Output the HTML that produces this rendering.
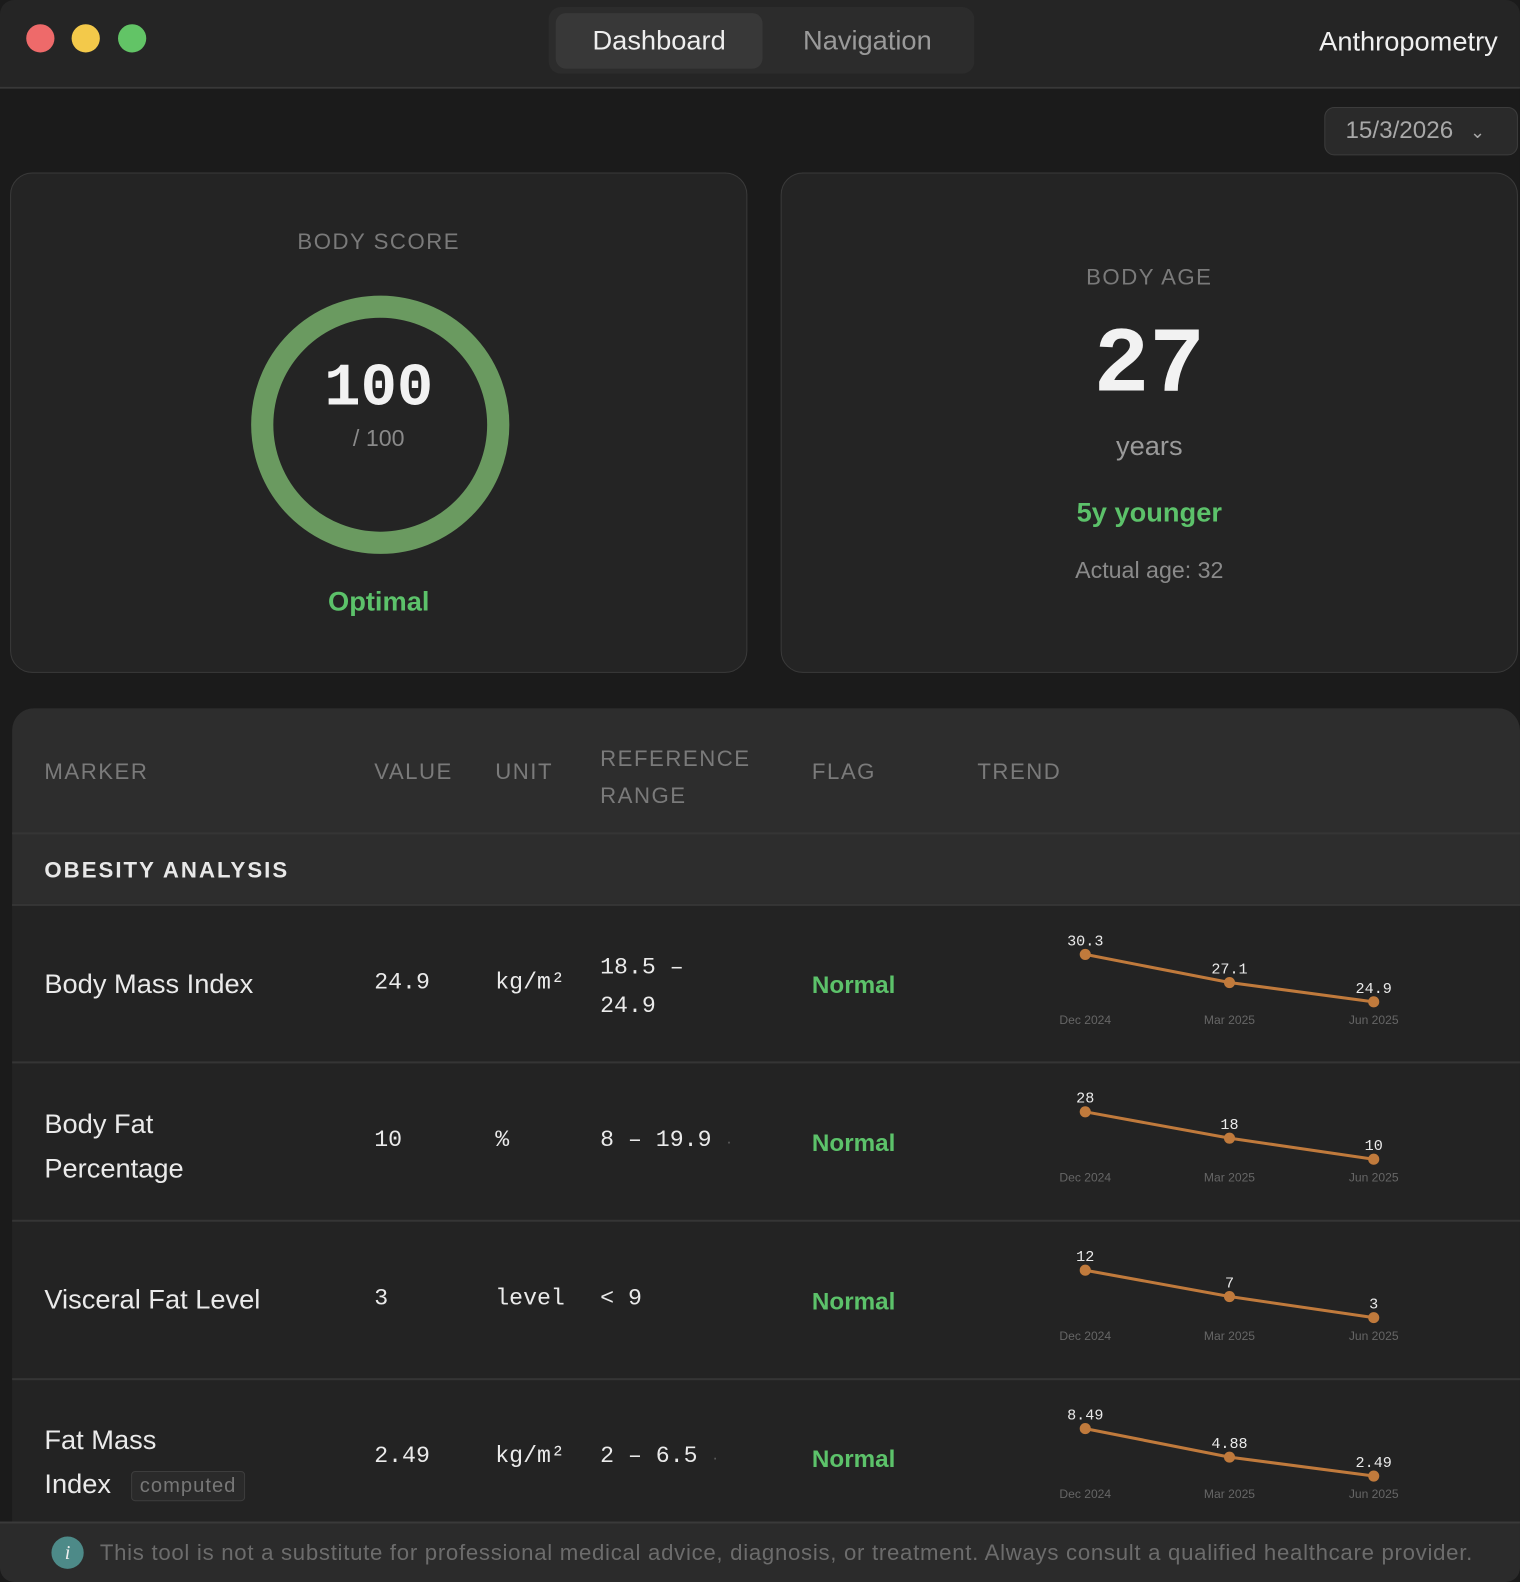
<!DOCTYPE html>
<html><head><meta charset="utf-8"><style>
*{box-sizing:border-box;margin:0;padding:0}
html,body{width:1520px;height:1582px;overflow:hidden;background:#1b1b1b}
body{font-family:"Liberation Sans",sans-serif}
#wrap{position:absolute;left:0;top:0;width:1507px;height:1568px;transform:scale(1.0086,1.0089);transform-origin:0 0;background:#1b1b1b}
.a{position:absolute}
.mono{font-family:"Liberation Mono",monospace}
.card{position:absolute;background:#242424;border:1px solid #3a3a3a;border-radius:22px}
.hd{color:#7a7a7a;font-size:22px;letter-spacing:1.5px}
.cell{position:absolute;color:#eaeaea}
.flag{color:#5cc26a;font-weight:bold;font-size:24px}
.sep{position:absolute;left:12px;width:1495px;height:2px;background:#353535}
</style></head><body>
<div id="wrap">
<div class="a" style="left:0;top:0;width:1507px;height:88px;background:#252525;border-bottom:2px solid #383838;border-radius:14px 14px 0 0"></div>
<div class="a" style="left:26px;top:24px;width:28px;height:28px;border-radius:50%;background:#ee6a6a"></div>
<div class="a" style="left:71px;top:24px;width:28px;height:28px;border-radius:50%;background:#f3c94a"></div>
<div class="a" style="left:117px;top:24px;width:28px;height:28px;border-radius:50%;background:#62c466"></div>
<div class="a" style="left:544px;top:7px;width:422px;height:66px;background:#2c2c2c;border-radius:12px"></div>
<div class="a" style="left:551px;top:13px;width:205px;height:55px;background:#383838;border-radius:10px;color:#eee;font-size:27px;text-align:center;line-height:55px">Dashboard</div>
<div class="a" style="left:760px;top:13px;width:200px;height:55px;color:#9a9a9a;font-size:27px;text-align:center;line-height:55px">Navigation</div>
<div class="a" style="right:22px;top:26px;color:#f0f0f0;font-size:27px">Anthropometry</div>
<div class="a" style="left:1313px;top:106px;width:192px;height:48px;background:#2a2a2a;border:1px solid #3c3c3c;border-radius:10px;color:#a8a8a8;font-size:24px;line-height:46px;padding-left:20px">15/3/2026 <span style="font-size:18px;margin-left:10px">&#8964;</span></div>

<div class="card" style="left:10px;top:171px;width:731px;height:496px"></div>
<div class="a hd" style="left:10px;width:731px;top:227px;text-align:center">BODY SCORE</div>
<svg class="a" style="left:248px;top:292px" width="258" height="258"><circle cx="129" cy="129" r="117" fill="none" stroke="#6a9a60" stroke-width="22"/></svg>
<div class="a mono" style="left:10px;width:731px;top:352px;text-align:center;color:#f2f2f2;font-size:60px;font-weight:bold">100</div>
<div class="a" style="left:10px;width:731px;top:421px;text-align:center;color:#8a8a8a;font-size:23px">/ 100</div>
<div class="a" style="left:10px;width:731px;top:581px;text-align:center;color:#5cc26a;font-size:27px;font-weight:bold">Optimal</div>

<div class="card" style="left:774px;top:171px;width:731px;height:496px"></div>
<div class="a hd" style="left:774px;width:731px;top:262px;text-align:center">BODY AGE</div>
<div class="a mono" style="left:774px;width:731px;top:310px;text-align:center;color:#f2f2f2;font-size:92px;font-weight:bold">27</div>
<div class="a" style="left:774px;width:731px;top:427px;text-align:center;color:#9a9a9a;font-size:27px">years</div>
<div class="a" style="left:774px;width:731px;top:493px;text-align:center;color:#5cc26a;font-size:27px;font-weight:bold">5y younger</div>
<div class="a" style="left:774px;width:731px;top:552px;text-align:center;color:#8a8a8a;font-size:23px">Actual age: 32</div>

<div class="a" style="left:12px;top:702px;width:1495px;height:820px;background:#232323;border-radius:22px 22px 0 0;overflow:hidden">
 <div style="position:absolute;left:0;top:0;width:100%;height:196px;background:#2d2d2d"></div>
</div>
<div class="sep" style="top:825px"></div>
<div class="sep" style="top:896px"></div>
<div class="sep" style="top:1052px"></div>
<div class="sep" style="top:1209px"></div>
<div class="sep" style="top:1366px"></div>
<div class="a hd" style="left:44px;top:752px">MARKER</div>
<div class="a hd" style="left:371px;top:752px">VALUE</div>
<div class="a hd" style="left:491px;top:752px">UNIT</div>
<div class="a hd" style="left:595px;top:733px;line-height:37px">REFERENCE<br>RANGE</div>
<div class="a hd" style="left:805px;top:752px">FLAG</div>
<div class="a hd" style="left:969px;top:752px">TREND</div>
<div class="a" style="left:44px;top:850px;color:#e8e8e8;font-size:22px;font-weight:bold;letter-spacing:2px">OBESITY ANALYSIS</div>

<div class="cell" style="left:44px;top:960px;font-size:27px">Body Mass Index</div>
<div class="cell mono" style="left:371px;top:961px;font-size:23px">24.9</div>
<div class="cell mono" style="left:491px;top:961px;font-size:23px">kg/m²</div>
<div class="cell mono" style="left:595px;top:940px;font-size:23px;line-height:38px">18.5 –<br>24.9</div>
<div class="a flag" style="left:805px;top:963px">Normal</div>

<div class="cell" style="left:44px;top:1092px;font-size:27px;line-height:44px">Body Fat<br>Percentage</div>
<div class="cell mono" style="left:371px;top:1117px;font-size:23px">10</div>
<div class="cell mono" style="left:491px;top:1117px;font-size:23px">%</div>
<div class="cell mono" style="left:595px;top:1117px;font-size:23px">8 – 19.9 <span style="color:#666;font-size:12px">·</span></div>
<div class="a flag" style="left:805px;top:1120px">Normal</div>

<div class="cell" style="left:44px;top:1273px;font-size:27px">Visceral Fat Level</div>
<div class="cell mono" style="left:371px;top:1274px;font-size:23px">3</div>
<div class="cell mono" style="left:491px;top:1274px;font-size:23px">level</div>
<div class="cell mono" style="left:595px;top:1274px;font-size:23px">&lt; 9</div>
<div class="a flag" style="left:805px;top:1277px">Normal</div>

<div class="cell" style="left:44px;top:1405px;font-size:27px;line-height:44px">Fat Mass<br>Index <span style="display:inline-block;margin-left:12px;font-size:20px;color:#777;border:1px solid #3d3d3d;background:#2a2a2a;border-radius:4px;padding:0 8px;line-height:28px;vertical-align:middle;letter-spacing:1px">computed</span></div>
<div class="cell mono" style="left:371px;top:1430px;font-size:23px">2.49</div>
<div class="cell mono" style="left:491px;top:1430px;font-size:23px">kg/m²</div>
<div class="cell mono" style="left:595px;top:1430px;font-size:23px">2 – 6.5 <span style="color:#666;font-size:12px">·</span></div>
<div class="a flag" style="left:805px;top:1433px">Normal</div>

<svg id="trends" class="a" style="left:0;top:0" width="1507" height="1568"></svg>

<div class="a" style="left:0;top:1508px;width:1507px;height:60px;background:#2b2b2b;border-top:2px solid #3a3a3a;border-radius:0 0 14px 14px"></div>
<div class="a" style="left:51px;top:1523px;width:32px;height:32px;border-radius:50%;background:#4d8a88;color:#eee;font-style:italic;font-size:20px;text-align:center;line-height:32px;font-family:'Liberation Serif',serif">i</div>
<div class="a" style="left:99px;top:1526px;color:#6c6c6c;font-size:22px;white-space:nowrap;letter-spacing:0.7px">This tool is not a substitute for professional medical advice, diagnosis, or treatment. Always consult a qualified healthcare provider.</div>
</div>
<script>
const trendDates = ["Dec 2024","Mar 2025","Jun 2025"];
const bmiTrend = [30.3, 27.1, 24.9];
const bodyFatTrend = [28, 18, 10];
const visceralTrend = [12, 7, 3];
const fatMassTrend = [8.49, 4.88, 2.49];
const trendLabels = [["30.3","27.1","24.9"],["28","18","10"],["12","7","3"],["8.49","4.88","2.49"]];
const series = [bmiTrend, bodyFatTrend, visceralTrend, fatMassTrend];
const rowTops = [898, 1054, 1211, 1368];
const NS = "http://www.w3.org/2000/svg";
const svg = document.getElementById('trends');
function xScale(i){ return 1076 + i * (286 / (trendDates.length - 1)); }
function yScale(v, s, top){ const mn=Math.min(...s), mx=Math.max(...s); return top + 48 + (mx - v) / ((mx - mn) || 1) * 47; }
series.forEach((s, r) => {
  const top = rowTops[r];
  const pl = document.createElementNS(NS, 'polyline');
  
  
  pl.setAttribute('points', s.map((v,i)=>xScale(i)+','+yScale(v,s,top)).join(' '));
  pl.setAttribute('fill','none'); pl.setAttribute('stroke','#c07a3c'); pl.setAttribute('stroke-width','3');
  svg.appendChild(pl);
  s.forEach((v, i) => {
    const c = document.createElementNS(NS, 'circle');
    
    
    c.setAttribute('cx', xScale(i)); c.setAttribute('cy', yScale(v,s,top)); c.setAttribute('r', 5.5);
    c.setAttribute('fill', '#c07a3c');
    svg.appendChild(c);
    const t = document.createElementNS(NS, 'text');
    
    
    t.setAttribute('x', xScale(i)); t.setAttribute('y', yScale(v,s,top) - 9);
    t.setAttribute('text-anchor','middle'); t.setAttribute('fill','#eaeaea');
    t.setAttribute('font-size','15'); t.setAttribute('font-family','Liberation Mono, monospace');
    t.textContent = trendLabels[r][i];
    svg.appendChild(t);
    const d = document.createElementNS(NS, 'text');
    
    
    d.setAttribute('x', xScale(i)); d.setAttribute('y', top + 117);
    d.setAttribute('text-anchor','middle'); d.setAttribute('fill','#666');
    d.setAttribute('font-size','12'); d.setAttribute('font-family','Liberation Sans, sans-serif');
    d.textContent = trendDates[i];
    svg.appendChild(d);
  });
});
</script>
</body></html>
